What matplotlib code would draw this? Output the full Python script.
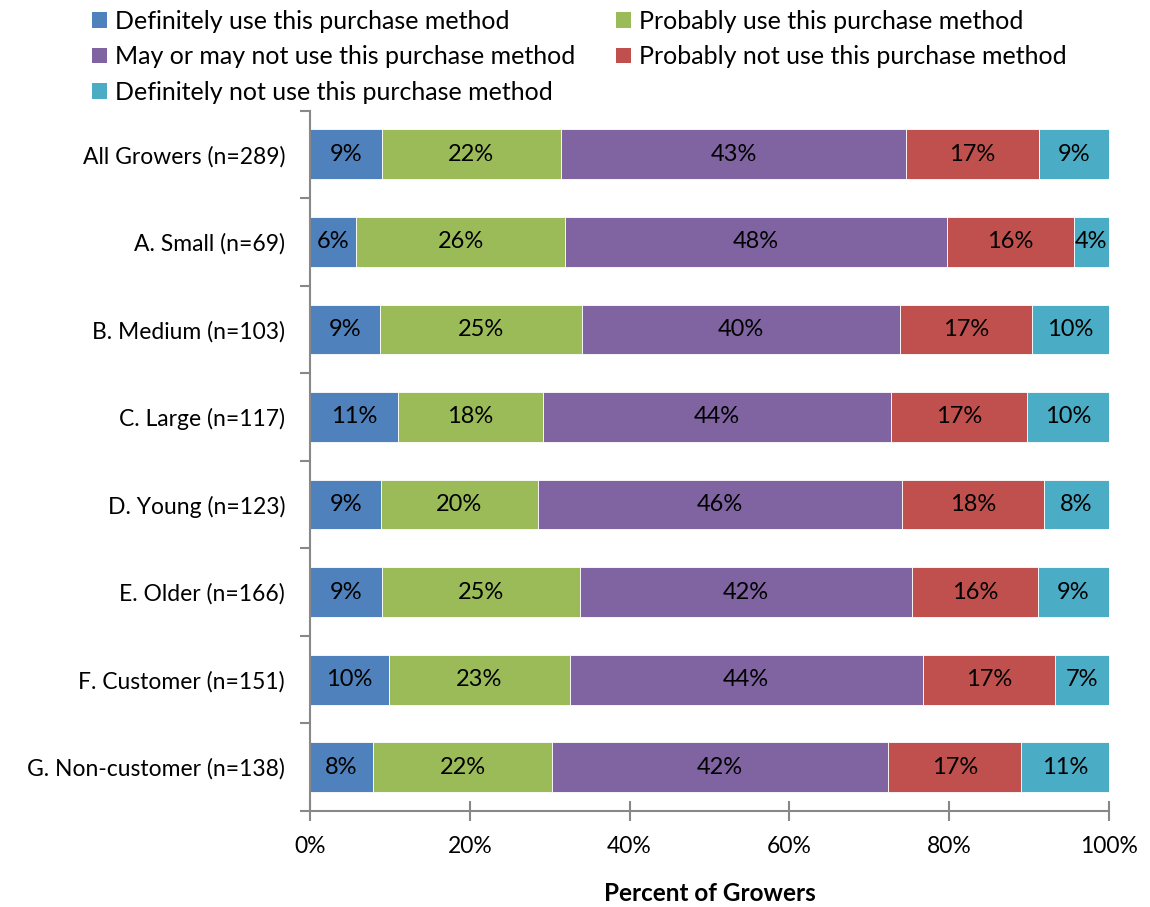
import matplotlib.pyplot as plt
from matplotlib.ticker import FixedLocator, PercentFormatter
from matplotlib.patches import Patch
import numpy as np

plt.rcParams['font.family'] = ['Lato', 'DejaVu Sans']

groups = ["All Growers (n=289)", "A. Small (n=69)", "B. Medium (n=103)",
          "C. Large (n=117)", "D. Young (n=123)", "E. Older (n=166)",
          "F. Customer (n=151)", "G. Non-customer (n=138)"]

responses = ["Definitely use this purchase method",
             "Probably use this purchase method",
             "May or may not use this purchase method",
             "Probably not use this purchase method",
             "Definitely not use this purchase method"]

# share of growers per response, in percent
definitely_use = [9.0, 5.8, 8.8, 11.0, 8.9, 9.0, 9.9, 7.9]
probably_use = [22.4, 26.1, 25.3, 18.1, 19.6, 24.8, 22.6, 22.4]
may_or_may_not = [43.2, 47.8, 39.7, 43.6, 45.6, 41.6, 44.2, 42.1]
probably_not = [16.6, 15.9, 16.6, 17.0, 17.8, 15.7, 16.6, 16.6]
definitely_not = [8.8, 4.4, 9.6, 10.3, 8.1, 8.9, 6.7, 11.0]

series = [definitely_use, probably_use, may_or_may_not, probably_not, definitely_not]
colors = ["#4F81BD", "#9BBB59", "#8064A2", "#C0504D", "#4BACC6"]

fig = plt.figure(figsize=(11.5, 9.07), dpi=100)
ax = fig.add_axes([0.2696, 0.106, 0.6947, 0.772])

y = np.arange(len(groups))
left = np.zeros(len(groups))
handles = []
for vals, col, name in zip(series, colors, responses):
    vals = np.array(vals)
    bars = ax.barh(y, vals, left=left, height=0.57, color=col,
                   edgecolor="white", linewidth=0.6)
    ax.bar_label(bars, labels=["%d%%" % round(v) for v in vals],
                 label_type="center", fontsize=17, color="black")
    left += vals
    handles.append(Patch(facecolor=col, label=name))

ax.set_xlim(0, 100)
ax.set_ylim(len(groups) - 0.5, -0.5)
ax.set_yticks(y)
ax.set_yticklabels(groups, fontsize=16.5)
ax.tick_params(axis="y", length=0, pad=18)
ax.yaxis.set_minor_locator(FixedLocator(np.arange(-0.5, len(groups), 1)))
ax.tick_params(axis="y", which="minor", length=7, width=1.5, color="#888888")

ax.set_xticks(np.arange(0, 101, 20))
ax.xaxis.set_major_formatter(PercentFormatter(decimals=0))
ax.tick_params(axis="x", direction="inout", length=14, width=1.5,
               color="#888888", labelsize=16.5, pad=11)
ax.set_xlabel("Percent of Growers", fontsize=17.5, fontweight="bold", labelpad=18)

for side in ["top", "right"]:
    ax.spines[side].set_visible(False)
for side in ["left", "bottom"]:
    ax.spines[side].set_color("#888888")
    ax.spines[side].set_linewidth(1.5)

order = [0, 2, 4, 1, 3]
fig.legend([handles[i] for i in order], [responses[i] for i in order],
           ncol=2, loc="upper left", bbox_to_anchor=(0.06, 1.014),
           frameon=False, fontsize=18, handlelength=0.6, handleheight=0.6,
           handletextpad=0.35, columnspacing=1.6, labelspacing=0.5)

fig.savefig("out.png", dpi=100)
